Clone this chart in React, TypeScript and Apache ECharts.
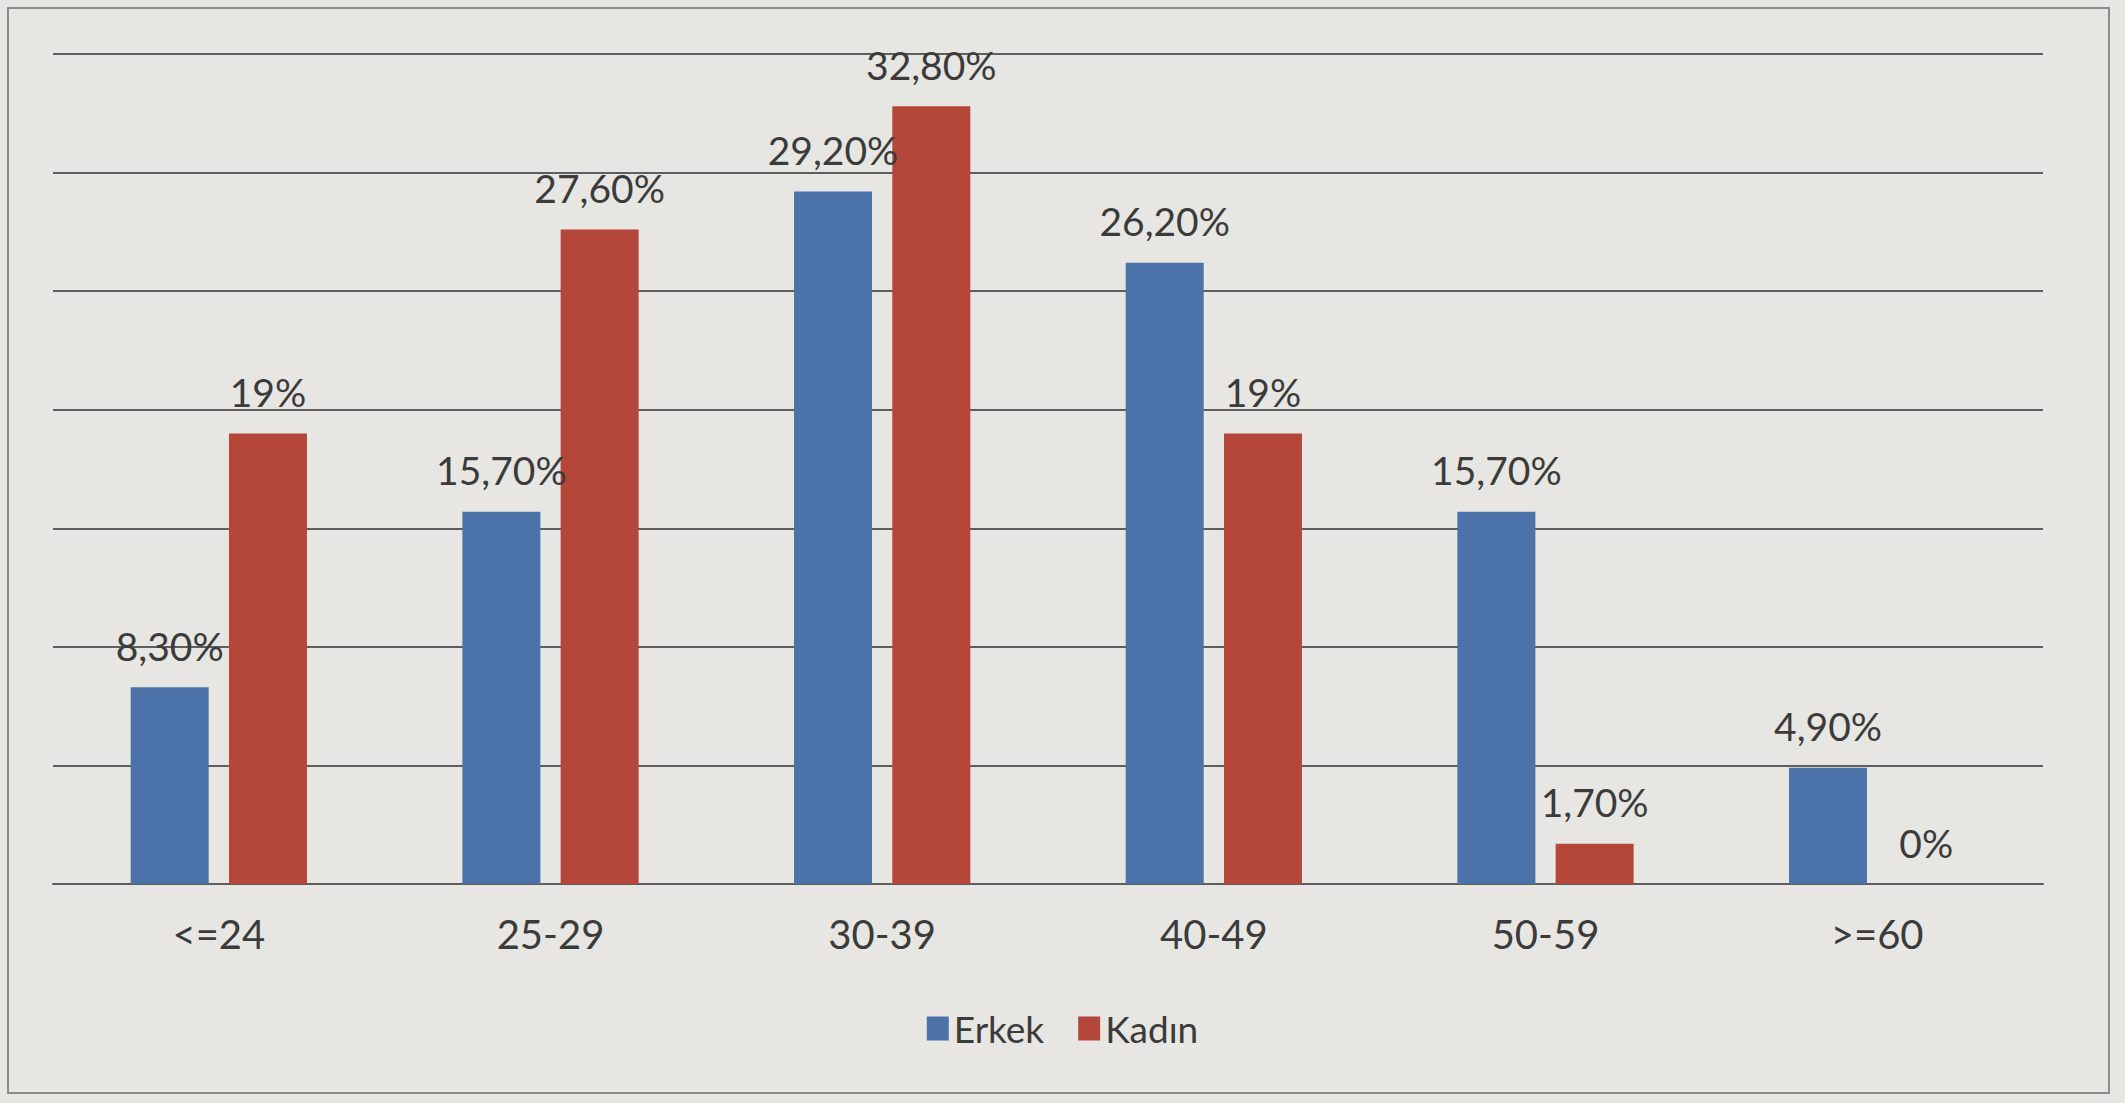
import React, { useEffect, useRef } from "react";
import * as echarts from "echarts";

// Age groups and the share of each gender in them (percent)
const ageGroups = ["<=24", "25-29", "30-39", "40-49", "50-59", ">=60"];
const erkek = [8.3, 15.7, 29.2, 26.2, 15.7, 4.9];
const kadin = [19, 27.6, 32.8, 19, 1.7, 0];
const seriesNames = ["Erkek", "Kadın"];

const W = 2125;
const H = 1103;
const FONT = "Lato, 'Open Sans', sans-serif";
const TEXT = "#3b3b3b";
const RULE = "#5e5e5e";

// Turkish style: decimal comma, whole numbers without decimals
const pct = (v: number) =>
  Number.isInteger(v) ? `${v}%` : `${v.toFixed(2).replace(".", ",")}%`;

export default function App() {
  const ref = useRef<HTMLDivElement>(null);

  useEffect(() => {
    document.body.style.margin = "0";
    const chart = echarts.init(ref.current!, undefined, { renderer: "svg" });
    const label = {
      show: true,
      position: "top" as const,
      distance: 22,
      color: TEXT,
      fontFamily: FONT,
      fontSize: 39,
      formatter: (p: any) => pct(p.value as number),
    };
    chart.setOption({
      animation: false,
      backgroundColor: "#e7e6e2",
      graphic: [
        {
          type: "rect",
          shape: { x: 8, y: 8, width: W - 24, height: H - 18 },
          style: { fill: "transparent", stroke: "#8c8c8a", lineWidth: 2 },
          silent: true,
        },
      ],
      grid: { left: 53, right: 82, top: 54, bottom: 219 },
      legend: {
        data: seriesNames,
        top: 1005,
        left: "center",
        icon: "rect",
        itemWidth: 22,
        itemHeight: 24,
        itemGap: 34,
        textStyle: { color: TEXT, fontFamily: FONT, fontSize: 37 },
      },
      xAxis: {
        type: "category",
        data: ageGroups,
        axisLine: { show: true, lineStyle: { color: RULE, width: 2 } },
        axisTick: { show: false },
        axisLabel: {
          color: TEXT,
          fontFamily: FONT,
          fontSize: 40,
          margin: 30,
        },
      },
      yAxis: {
        type: "value",
        min: 0,
        max: 35,
        interval: 5,
        axisLabel: { show: false },
        axisLine: { show: false },
        axisTick: { show: false },
        splitLine: { lineStyle: { color: RULE, width: 2 } },
      },
      series: [
        {
          name: seriesNames[0],
          type: "bar",
          data: erkek,
          barWidth: 78,
          barGap: "26%",
          itemStyle: { color: "#4b73a9" },
          label,
        },
        {
          name: seriesNames[1],
          type: "bar",
          data: kadin,
          barWidth: 78,
          itemStyle: { color: "#b5473a" },
          label,
        },
      ],
    });
    return () => chart.dispose();
  }, []);

  return (
    <div
      ref={ref}
      style={{ position: "absolute", left: 0, top: 0, width: W, height: H }}
    />
  );
}
